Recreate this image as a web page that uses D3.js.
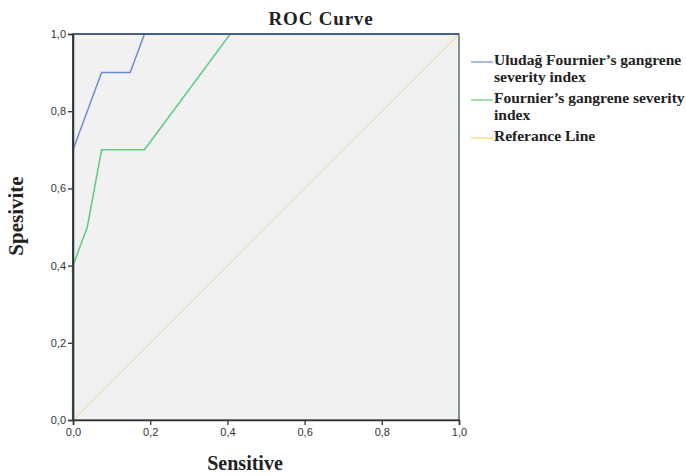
<!DOCTYPE html>
<html>
<head>
<meta charset="utf-8">
<script src="https://cdn.jsdelivr.net/npm/d3@7"></script>
<style>
  body { margin: 0; background: #fff; }
  .tick text { font-family: "Liberation Sans", Arial, sans-serif; font-size: 11px; fill: #333; }
  .serif { font-family: "Liberation Serif", "DejaVu Serif", serif; font-weight: bold; fill: #222; }
</style>
</head>
<body>
<svg id="chart" width="686" height="476"></svg>
<script>
// ROC points (1 - specificity, sensitivity)
const uludagX = [0, 0, 2/27, 4/27, 5/27, 1];
const uludagY = [0, 0.7, 0.9, 0.9, 1.0, 1.0];
const fournierX = [0, 0, 1/27, 2/27, 5/27, 11/27, 1];
const fournierY = [0, 0.4, 0.5, 0.7, 0.7, 1.0, 1.0];
const refX = [0, 1];
const refY = [0, 1];
const ticks = [0, 0.2, 0.4, 0.6, 0.8, 1.0];
const legendLabels = [
  ["Uludağ Fournier’s gangrene", "severity index"],
  ["Fournier’s gangrene severity", "index"],
  ["Referance Line"]
];
const colors = ["#6a8cd0", "#5fcb7e", "#f2da6a"];

const svg = d3.select("#chart");
const plotLeft = 73, plotTop = 34, plotSize = 386;

const x = d3.scaleLinear().domain([0, 1]).range([plotLeft, plotLeft + plotSize]);
const y = d3.scaleLinear().domain([0, 1]).range([plotTop + plotSize, plotTop]);
const fmt = d => d3.format(".1f")(d).replace(".", ",");

// plot background
svg.append("rect")
  .attr("x", x(0)).attr("y", y(1))
  .attr("width", x(1) - x(0)).attr("height", y(0) - y(1))
  .attr("fill", "#f1f1f1")
  .attr("stroke", "#2f4f4a").attr("stroke-width", 1.2);

const line = d3.line().x(d => x(d[0])).y(d => y(d[1]));

svg.append("path")
  .datum(d3.zip(refX, refY))
  .attr("d", line).attr("fill", "none")
  .attr("stroke", "#e4dfb6").attr("stroke-width", 1.2);

svg.append("path")
  .datum(d3.zip(fournierX, fournierY))
  .attr("d", line).attr("fill", "none")
  .attr("stroke", colors[1]).attr("stroke-width", 1.5);

svg.append("path")
  .datum(d3.zip(uludagX, uludagY))
  .attr("d", line).attr("fill", "none")
  .attr("stroke", colors[0]).attr("stroke-width", 1.5);

// dark left edge where both curves run up the axis
svg.append("line")
  .attr("x1", x(0)).attr("x2", x(0)).attr("y1", y(0)).attr("y2", y(0.4))
  .attr("stroke", "#2e5a4c").attr("stroke-width", 2.2);
svg.append("line")
  .attr("x1", x(0)).attr("x2", x(0)).attr("y1", y(0.4)).attr("y2", y(1))
  .attr("stroke", "#34466a").attr("stroke-width", 2);
svg.append("line")
  .attr("x1", x(0)).attr("x2", x(1)).attr("y1", y(1)).attr("y2", y(1))
  .attr("stroke", "#3a4f7a").attr("stroke-width", 1.6);

// axes
const xAxis = svg.append("g")
  .attr("transform", `translate(0,${y(0)})`)
  .call(d3.axisBottom(x).tickValues(ticks).tickFormat(fmt).tickSize(5).tickPadding(3));
const yAxis = svg.append("g")
  .attr("transform", `translate(${x(0)},0)`)
  .call(d3.axisLeft(y).tickValues(ticks).tickFormat(fmt).tickSize(5).tickPadding(2));
[xAxis, yAxis].forEach(g => {
  g.select(".domain").attr("stroke", "#333").attr("stroke-width", 1.5);
  g.selectAll(".tick line").attr("stroke", "#333").attr("stroke-width", 1.3);
});

// titles
svg.append("text").attr("class", "serif")
  .attr("x", 321).attr("y", 25).attr("text-anchor", "middle")
  .attr("font-size", 19).attr("letter-spacing", 0.8).text("ROC Curve");
svg.append("text").attr("class", "serif")
  .attr("x", 245).attr("y", 470).attr("text-anchor", "middle")
  .attr("font-size", 20).text("Sensitive");
svg.append("text").attr("class", "serif")
  .attr("transform", "translate(23,216) rotate(-90)")
  .attr("text-anchor", "middle")
  .attr("font-size", 21).text("Spesivite");

// legend
const legendY = [62, 100, 138];
const legend = svg.append("g");
legendLabels.forEach((lines, i) => {
  legend.append("line")
    .attr("x1", 471).attr("x2", 493)
    .attr("y1", legendY[i]).attr("y2", legendY[i])
    .attr("stroke", colors[i]).attr("stroke-width", 1.2);
  lines.forEach((t, j) => {
    legend.append("text").attr("class", "serif")
      .attr("x", 494).attr("y", legendY[i] + 3 + j * 16.5)
      .attr("font-size", 15.5).text(t);
  });
});
</script>
</body>
</html>
